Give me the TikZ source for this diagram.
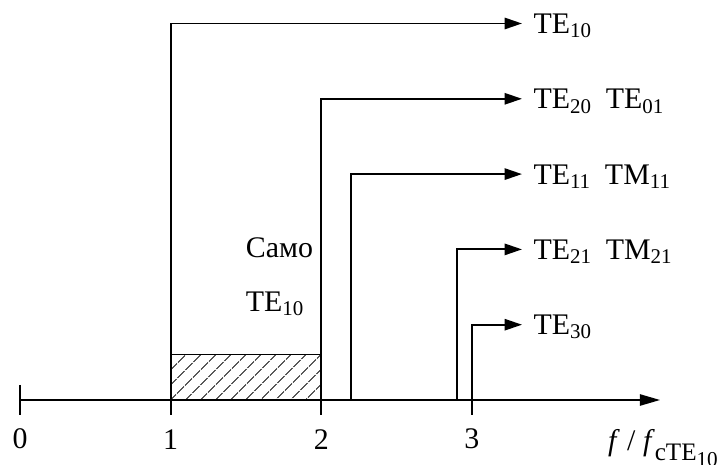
\documentclass[tikz,border=0pt]{standalone}
\usepackage{amsmath}
\usepackage{fontspec}
\setmainfont{Liberation Serif}
\usetikzlibrary{arrows.meta}
\usetikzlibrary{patterns.meta}

\newcommand{\md}[2]{#1$_{\text{#2}}$}

\begin{document}
\begin{tikzpicture}[x=2cm, y=1cm, line width=0.7pt,
    mode/.style={anchor=west, inner sep=4pt, text height=7.5pt, text depth=0pt},
    feed/.style={-{Triangle[length=2.3mm, width=1.5mm]}}]
    \fontsize{11.3}{13.5}\selectfont
    \useasboundingbox (-0.133,-0.863) rectangle (4.661,5.312);

    % Hatched single-mode band
    \draw[line width=0.4pt, pattern={Lines[angle=45, distance=4pt, line width=0.4pt]}]
      (1,0) rectangle (2,0.6);

    % Draw axis
    \draw[-{Triangle[length=2.7mm, width=1.5mm]}] (0,0) -- (4.25,0);
    \draw (0,0.2) -- (0,-0.2);
    \foreach \x in {1,2,3} {
      \draw (\x,0) -- (\x,-0.2);
    }
    \foreach \x in {0,1,2,3} {
      \node (t\x) at (\x,-0.52) {\x};
    }
    \node[anchor=base west, inner sep=0pt] (axlabel) at (3.898,-0.664)
      {\textit{f}\ /\ \textit{f}\raisebox{-3.8pt}{\fontsize{9.5}{10}\selectfont cTE\raisebox{-2.5pt}{\fontsize{8}{9}\selectfont 10}}};

    % Cutoff points
    \coordinate (c10) at (1,0);
    \coordinate (c20) at (2,0);
    \coordinate (c11) at (2.2,0);
    \coordinate (c21) at (2.9,0);
    \coordinate (c30) at (3,0);

    % Mode labels
    \node[mode] (te10) at (3.333,5) {\md{TE}{10}};
    \node[mode] (te20) at (3.333,4) {\md{TE}{20}\hspace{0.45em}\md{TE}{01}};
    \node[mode] (te11) at (3.333,3) {\md{TE}{11}\hspace{0.45em}\md{TM}{11}};
    \node[mode] (te21) at (3.333,2) {\md{TE}{21}\hspace{0.45em}\md{TM}{21}};
    \node[mode] (te30) at (3.333,1) {\md{TE}{30}};

    % Modes above cutoff
    \draw[feed] (c10) |- (te10.west);
    \draw[feed] (c20) |- (te20.west);
    \draw[feed] (c11) |- (te11.west);
    \draw[feed] (c21) |- (te21.west);
    \draw[feed] (c30) |- (te30.west);

    % Single-mode region
    \node[anchor=base west, inner sep=0pt] (only) at (1.494,1.886) {Само};
    \node[anchor=base west, inner sep=0pt] (only10) at (1.494,1.18) {\md{TE}{10}};
  \end{tikzpicture}
\end{document}
